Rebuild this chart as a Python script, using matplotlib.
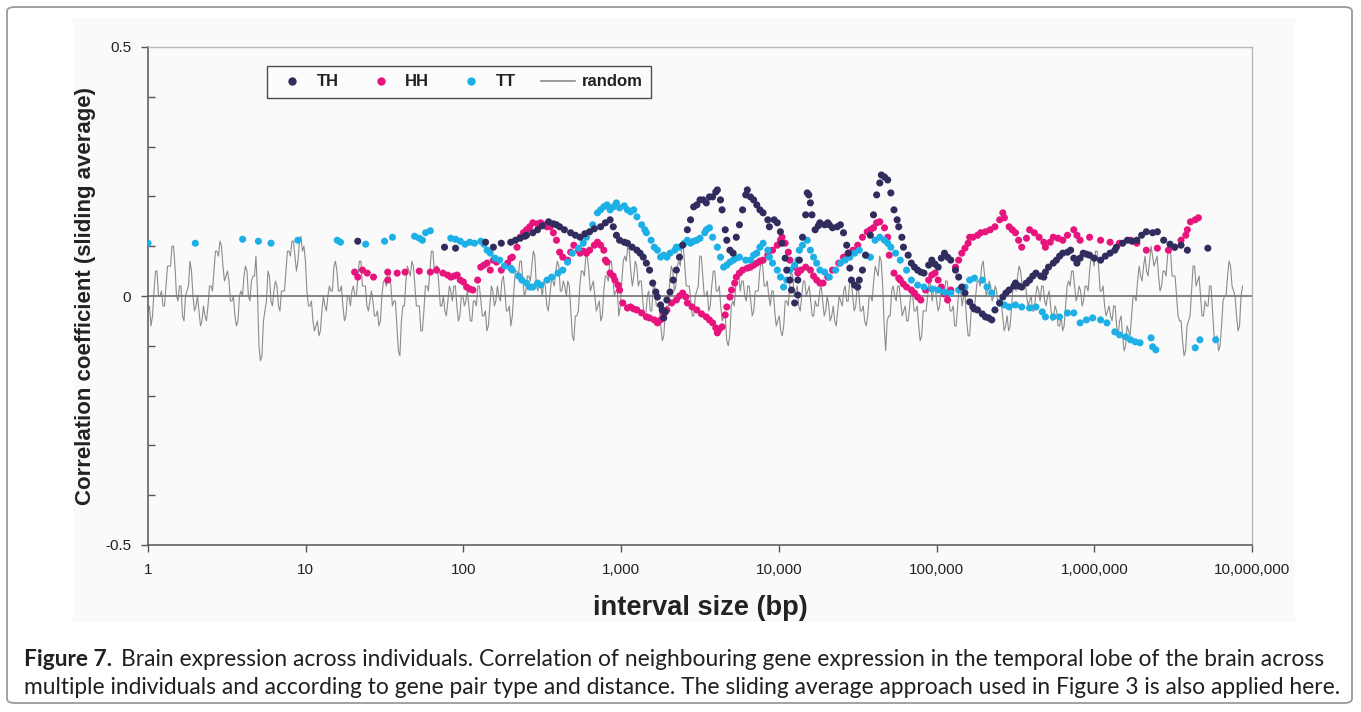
import numpy as np
import matplotlib
matplotlib.use("Agg")
import matplotlib.pyplot as plt
from matplotlib.lines import Line2D
from matplotlib.patches import FancyBboxPatch, Rectangle

plt.rcParams['font.family'] = ['Liberation Sans', 'DejaVu Sans']

# (log10 interval size, correlation)
th_points = [
    (1.33, 0.110), (1.88, 0.098), (1.95, 0.096), (2.14, 0.108), (2.19, 0.098), (2.24, 0.106),
    (2.30, 0.108), (2.33, 0.112), (2.36, 0.116), (2.39, 0.120), (2.40, 0.122), (2.44, 0.127),
    (2.47, 0.133), (2.50, 0.141), (2.54, 0.149), (2.57, 0.145), (2.59, 0.143), (2.61, 0.139),
    (2.64, 0.133), (2.68, 0.127), (2.71, 0.122), (2.74, 0.118), (2.77, 0.125), (2.80, 0.129),
    (2.83, 0.135), (2.87, 0.139), (2.90, 0.147), (2.93, 0.153), (2.95, 0.139), (2.97, 0.122),
    (2.99, 0.112), (3.02, 0.108), (3.04, 0.106), (3.07, 0.098), (3.10, 0.092), (3.12, 0.086),
    (3.14, 0.078), (3.16, 0.066), (3.18, 0.052), (3.20, 0.026), (3.22, 0.008), (3.23, -0.002),
    (3.25, -0.018), (3.26, -0.028), (3.27, -0.044), (3.28, -0.032), (3.29, -0.008), (3.31, 0.008),
    (3.33, 0.032), (3.35, 0.052), (3.37, 0.078), (3.39, 0.102), (3.42, 0.133), (3.44, 0.153),
    (3.46, 0.179), (3.48, 0.183), (3.50, 0.193), (3.52, 0.193), (3.54, 0.187), (3.56, 0.199),
    (3.58, 0.199), (3.60, 0.209), (3.61, 0.213), (3.63, 0.193), (3.64, 0.173), (3.66, 0.133),
    (3.67, 0.112), (3.69, 0.092), (3.71, 0.086), (3.73, 0.118), (3.75, 0.143), (3.77, 0.173),
    (3.79, 0.203), (3.80, 0.213), (3.82, 0.199), (3.84, 0.193), (3.86, 0.183), (3.88, 0.173),
    (3.90, 0.167), (3.93, 0.153), (3.94, 0.139), (3.97, 0.153), (3.99, 0.147), (4.01, 0.129),
    (4.02, 0.106), (4.04, 0.076), (4.05, 0.052), (4.07, 0.032), (4.08, 0.012), (4.10, -0.014),
    (4.12, 0.002), (4.12, 0.032), (4.13, 0.072), (4.15, 0.118), (4.17, 0.163), (4.18, 0.207),
    (4.19, 0.203), (4.20, 0.187), (4.21, 0.163), (4.23, 0.133), (4.25, 0.141), (4.26, 0.147),
    (4.29, 0.143), (4.31, 0.147), (4.32, 0.143), (4.34, 0.137), (4.37, 0.139), (4.39, 0.143),
    (4.41, 0.127), (4.43, 0.102), (4.44, 0.086), (4.45, 0.056), (4.46, 0.032), (4.48, 0.022),
    (4.50, 0.018), (4.51, 0.032), (4.53, 0.052), (4.55, 0.082), (4.58, 0.122), (4.60, 0.163),
    (4.62, 0.203), (4.64, 0.227), (4.65, 0.243), (4.67, 0.239), (4.69, 0.233), (4.71, 0.207),
    (4.73, 0.173), (4.75, 0.153), (4.76, 0.139), (4.78, 0.118), (4.79, 0.098), (4.82, 0.082),
    (4.84, 0.066), (4.86, 0.058), (4.88, 0.052), (4.90, 0.048), (4.92, 0.046), (4.95, 0.062),
    (4.97, 0.072), (4.99, 0.064), (5.01, 0.058), (5.03, 0.076), (5.05, 0.086), (5.07, 0.078),
    (5.09, 0.072), (5.12, 0.052), (5.14, 0.038), (5.16, 0.018), (5.18, 0.006), (5.21, -0.012),
    (5.23, -0.022), (5.24, -0.026), (5.26, -0.028), (5.29, -0.036), (5.31, -0.042), (5.33, -0.044),
    (5.35, -0.048), (5.37, -0.028), (5.40, -0.014), (5.42, -0.002), (5.44, 0.006), (5.46, 0.012),
    (5.49, 0.020), (5.50, 0.026), (5.52, 0.020), (5.54, 0.018), (5.57, 0.026), (5.59, 0.032),
    (5.61, 0.040), (5.63, 0.046), (5.66, 0.040), (5.68, 0.038), (5.69, 0.048), (5.71, 0.058),
    (5.74, 0.066), (5.76, 0.072), (5.78, 0.080), (5.80, 0.086), (5.83, 0.088), (5.85, 0.092),
    (5.87, 0.076), (5.89, 0.066), (5.91, 0.076), (5.93, 0.086), (5.95, 0.084), (5.97, 0.082),
    (6.00, 0.076), (6.04, 0.072), (6.07, 0.080), (6.10, 0.086), (6.13, 0.092), (6.14, 0.098),
    (6.18, 0.106), (6.21, 0.112), (6.24, 0.110), (6.27, 0.112), (6.30, 0.122), (6.33, 0.129),
    (6.37, 0.127), (6.40, 0.129), (6.44, 0.112), (6.48, 0.104), (6.51, 0.098), (6.55, 0.102),
    (6.59, 0.092), (6.72, 0.096),
]

hh_points = [
    (1.31, 0.048), (1.33, 0.038), (1.36, 0.052), (1.39, 0.046), (1.43, 0.038), (1.52, 0.032),
    (1.52, 0.048), (1.58, 0.046), (1.63, 0.048), (1.72, 0.050), (1.79, 0.048), (1.83, 0.052),
    (1.87, 0.046), (1.90, 0.042), (1.92, 0.038), (1.94, 0.040), (1.96, 0.042), (1.98, 0.032),
    (2.00, 0.028), (2.02, 0.018), (2.04, 0.014), (2.06, 0.012), (2.09, 0.032), (2.11, 0.058),
    (2.13, 0.062), (2.15, 0.066), (2.17, 0.052), (2.19, 0.072), (2.21, 0.068), (2.24, 0.052),
    (2.28, 0.066), (2.30, 0.076), (2.31, 0.078), (2.34, 0.098), (2.36, 0.118), (2.38, 0.127),
    (2.40, 0.133), (2.42, 0.139), (2.44, 0.147), (2.47, 0.145), (2.49, 0.147), (2.51, 0.143),
    (2.53, 0.139), (2.55, 0.139), (2.57, 0.127), (2.59, 0.112), (2.61, 0.088), (2.63, 0.078),
    (2.66, 0.072), (2.68, 0.088), (2.70, 0.102), (2.73, 0.092), (2.74, 0.086), (2.76, 0.090),
    (2.78, 0.086), (2.80, 0.092), (2.83, 0.102), (2.85, 0.108), (2.87, 0.102), (2.89, 0.092),
    (2.90, 0.072), (2.91, 0.068), (2.93, 0.046), (2.95, 0.040), (2.96, 0.032), (2.98, 0.022),
    (2.99, 0.012), (3.01, -0.014), (3.04, -0.024), (3.06, -0.022), (3.08, -0.026), (3.10, -0.028),
    (3.13, -0.034), (3.16, -0.042), (3.18, -0.044), (3.21, -0.048), (3.23, -0.054), (3.25, -0.048),
    (3.27, -0.036), (3.29, -0.028), (3.32, -0.014), (3.35, -0.008), (3.37, 0.000), (3.39, 0.006),
    (3.41, -0.002), (3.42, -0.014), (3.45, -0.022), (3.48, -0.028), (3.51, -0.036), (3.54, -0.042),
    (3.56, -0.048), (3.58, -0.054), (3.60, -0.064), (3.61, -0.074), (3.62, -0.068), (3.64, -0.062),
    (3.66, -0.038), (3.67, -0.022), (3.69, -0.002), (3.70, 0.012), (3.72, 0.026), (3.73, 0.038),
    (3.75, 0.046), (3.77, 0.052), (3.80, 0.056), (3.82, 0.058), (3.84, 0.062), (3.86, 0.066),
    (3.88, 0.070), (3.90, 0.072), (3.93, 0.082), (3.96, 0.092), (3.99, 0.102), (4.01, 0.112),
    (4.02, 0.118), (4.04, 0.106), (4.06, 0.088), (4.07, 0.072), (4.10, 0.058), (4.12, 0.046),
    (4.14, 0.052), (4.17, 0.058), (4.20, 0.052), (4.22, 0.040), (4.24, 0.032), (4.26, 0.026),
    (4.28, 0.026), (4.31, 0.038), (4.34, 0.052), (4.38, 0.066), (4.41, 0.078), (4.44, 0.086),
    (4.47, 0.092), (4.50, 0.102), (4.53, 0.118), (4.56, 0.129), (4.58, 0.133), (4.60, 0.137),
    (4.62, 0.147), (4.64, 0.149), (4.67, 0.137), (4.69, 0.118), (4.70, 0.082), (4.73, 0.046),
    (4.76, 0.036), (4.77, 0.032), (4.79, 0.024), (4.81, 0.018), (4.84, 0.012), (4.86, 0.006),
    (4.88, -0.002), (4.90, -0.008), (4.93, 0.012), (4.95, 0.032), (4.97, 0.042), (4.99, 0.046),
    (5.01, 0.032), (5.03, 0.018), (5.05, 0.004), (5.07, -0.008), (5.09, 0.012), (5.12, 0.058),
    (5.14, 0.072), (5.16, 0.086), (5.18, 0.096), (5.20, 0.106), (5.21, 0.118), (5.23, 0.118),
    (5.26, 0.122), (5.28, 0.127), (5.31, 0.129), (5.34, 0.133), (5.37, 0.139), (5.40, 0.153),
    (5.42, 0.167), (5.43, 0.157), (5.46, 0.139), (5.48, 0.133), (5.50, 0.127), (5.52, 0.112),
    (5.54, 0.098), (5.57, 0.116), (5.59, 0.133), (5.62, 0.127), (5.65, 0.118), (5.68, 0.108),
    (5.69, 0.098), (5.72, 0.108), (5.74, 0.118), (5.77, 0.116), (5.80, 0.112), (5.83, 0.122),
    (5.87, 0.133), (5.89, 0.122), (5.91, 0.112), (5.97, 0.118), (6.04, 0.112), (6.10, 0.108),
    (6.16, 0.106), (6.23, 0.112), (6.27, 0.106), (6.33, 0.092), (6.40, 0.096), (6.47, 0.092),
    (6.51, 0.098), (6.55, 0.112), (6.58, 0.122), (6.59, 0.133), (6.61, 0.149), (6.64, 0.153),
    (6.66, 0.157),
]

tt_points = [
    (0.00, 0.106), (0.30, 0.106), (0.60, 0.114), (0.70, 0.110), (0.78, 0.106), (0.95, 0.112),
    (1.20, 0.112), (1.22, 0.108), (1.38, 0.104), (1.50, 0.110), (1.55, 0.118), (1.69, 0.120),
    (1.72, 0.116), (1.74, 0.112), (1.76, 0.127), (1.79, 0.131), (1.92, 0.116), (1.95, 0.114),
    (1.98, 0.110), (2.01, 0.104), (2.04, 0.108), (2.07, 0.106), (2.11, 0.110), (2.13, 0.104),
    (2.15, 0.092), (2.17, 0.086), (2.20, 0.076), (2.23, 0.072), (2.26, 0.060), (2.30, 0.056),
    (2.31, 0.052), (2.35, 0.040), (2.37, 0.032), (2.40, 0.026), (2.42, 0.018), (2.44, 0.018),
    (2.47, 0.026), (2.49, 0.022), (2.53, 0.032), (2.56, 0.038), (2.60, 0.046), (2.63, 0.052),
    (2.66, 0.068), (2.69, 0.086), (2.73, 0.096), (2.76, 0.106), (2.78, 0.118), (2.82, 0.143),
    (2.85, 0.167), (2.87, 0.173), (2.89, 0.179), (2.91, 0.183), (2.93, 0.173), (2.95, 0.179),
    (2.97, 0.187), (2.99, 0.177), (3.02, 0.181), (3.04, 0.173), (3.06, 0.169), (3.08, 0.173),
    (3.10, 0.159), (3.13, 0.143), (3.15, 0.133), (3.16, 0.127), (3.19, 0.112), (3.21, 0.098),
    (3.23, 0.092), (3.25, 0.078), (3.27, 0.082), (3.29, 0.078), (3.31, 0.086), (3.34, 0.092),
    (3.35, 0.098), (3.37, 0.098), (3.40, 0.106), (3.42, 0.112), (3.44, 0.106), (3.46, 0.110),
    (3.48, 0.112), (3.50, 0.116), (3.53, 0.127), (3.54, 0.133), (3.56, 0.137), (3.58, 0.118),
    (3.61, 0.098), (3.63, 0.078), (3.65, 0.058), (3.67, 0.062), (3.69, 0.068), (3.71, 0.072),
    (3.73, 0.076), (3.75, 0.078), (3.79, 0.072), (3.82, 0.072), (3.84, 0.082), (3.86, 0.086),
    (3.88, 0.098), (3.90, 0.106), (3.93, 0.092), (3.94, 0.078), (3.96, 0.066), (3.99, 0.052),
    (4.01, 0.038), (4.03, 0.018), (4.05, 0.032), (4.07, 0.052), (4.10, 0.062), (4.12, 0.072),
    (4.13, 0.092), (4.15, 0.102), (4.18, 0.112), (4.20, 0.092), (4.22, 0.078), (4.24, 0.066),
    (4.26, 0.052), (4.29, 0.048), (4.32, 0.038), (4.36, 0.052), (4.39, 0.066), (4.42, 0.072),
    (4.45, 0.078), (4.48, 0.086), (4.51, 0.092), (4.55, 0.082), (4.58, 0.078), (4.61, 0.112),
    (4.64, 0.118), (4.67, 0.112), (4.69, 0.106), (4.71, 0.098), (4.74, 0.086), (4.77, 0.072),
    (4.81, 0.052), (4.84, 0.032), (4.88, 0.022), (4.92, 0.018), (4.97, 0.014), (5.01, 0.012),
    (5.05, 0.008), (5.09, 0.006), (5.14, 0.012), (5.18, 0.018), (5.21, 0.032), (5.24, 0.036),
    (5.29, 0.032), (5.32, 0.018), (5.35, 0.006), (5.40, -0.014), (5.43, -0.018), (5.46, -0.022),
    (5.50, -0.018), (5.54, -0.022), (5.59, -0.024), (5.63, -0.022), (5.67, -0.032), (5.69, -0.042),
    (5.74, -0.042), (5.78, -0.042), (5.83, -0.034), (5.87, -0.034), (5.91, -0.054), (5.95, -0.048),
    (5.99, -0.044), (6.04, -0.048), (6.08, -0.054), (6.13, -0.072), (6.16, -0.078), (6.20, -0.082),
    (6.23, -0.088), (6.26, -0.092), (6.29, -0.094), (6.36, -0.084), (6.37, -0.102), (6.39, -0.108),
    (6.64, -0.104), (6.67, -0.088), (6.77, -0.088),
]

# random-pair control trace, in hundredths, sampled evenly along the log axis
random_y_pct = [
    -3, -2, -6, -4, 1, 5, 5, 0, 0, 1, -2, -2, 2, 6, 6, 6, 10, 10, 6, 0,
    -1, 2, 2, -4, -5, 0, 1, 2, 7, 5, 0, -3, -2, 0, -3, -6, -5, -2, -4, -5,
    -2, 2, 2, 1, 5, 9, 9, 8, 11, 10, 6, 3, 4, 5, 3, -1, -1, 0, -4, -6,
    -5, 0, 1, 0, 4, 6, 5, 0, -1, 3, 4, 4, 8, 1, -10, -13, -12, -5, -3, -1,
    5, 4, -1, -2, 1, 3, 2, -2, -3, 1, 1, 1, 5, 9, 9, 8, 11, 11, 8, 5,
    7, 11, 12, 9, 10, 7, 1, -2, -2, -1, -5, -7, -6, -5, -8, -7, -3, 0, -2, -3,
    0, 2, 1, 1, 6, 7, 5, 1, 1, 2, -2, -5, -4, 0, 0, -2, 1, 2, 0, 0,
    4, 7, 7, 2, 2, 2, -2, -3, -1, 1, -1, -4, -4, -3, -6, -5, 0, 3, 3, 2,
    5, 5, 2, -2, -1, -1, -6, -11, -12, -5, -2, -2, 3, 6, 5, 4, 7, 6, 2, -2,
    -2, -2, -7, -7, -3, 2, 2, 1, 5, 9, 9, 5, 6, 6, 2, -2, -2, 0, -3, -4,
    -1, 2, 1, -1, 2, 2, -2, -5, -4, 0, 0, -2, -1, 1, -2, -5, -5, -1, -1, -2,
    2, 2, -1, -4, -4, -3, -7, -6, -2, 2, 1, -2, -1, 2, 0, -1,
    3, 4, 1, -3, -3, -2, -6, -4, 1, 5, 5, 4, 7, 7, 3, 0, 1, 4, 4, 3,
    6, 9, 8, 2, 1, 3, 2, 0, 3, 2, -2, -3, 0, 3, 3, 2, 5, 7, 6, 1,
    1, 3, 2, 0, 3, 2, -3, -8, -9, -4, -4, -3, 2, 5, 5, 4, 8, 8, 5, 1,
    2, 3, 0, -3, -2, -1, -5, -4, 1, 4, 4, 3, 7, 7, 4, 0, 1, 1, -4, -2,
    3, 7, 8, 7, 10, 9, 5, 2, 4, 7, 6, 2, 3, 3, -1, -4, -4, 0, 1, -3,
    -3, 2, 2, -2, -2, -2, -6, -9, -8, -3, -2, -2, 3, 6, 5, 1, 2, 6, 7, 6,
    10, 10, 6, 2, 2, 2, -1, -4, -4, 0, 1, 2, 8, 8, 4, 0, 0, 1, -3, -2,
    2, 5, 5, 1, 1, 2, -2, -5, -4, -4, -9, -10, -8, -2, -1, -2, 2, 5, 4, 1,
    3, 3, 0, -1, 2, 2, -1, -4, -3, 1, 1, 1, 5, 7, 6, 2, 2, 3, 0, -2,
    1, 1, -3, -6, -5, -4, -7, -8, -6, -1, -1, -2, 2, 5, 4, 0, 1, 2, -2, -3,
    0, 3, 3, 0, 1, 2, -1, -4, -4, -1, -2, -2, 1, 2, -1, -4, -3, 0, -2, -5,
    -4, -2, -5, -6, -3, 0, -1, -2, 1, 2, -1, -1, 3, 3, 0, -3, -2, 2, 1, -3,
    -3, -2, -5, -6, -4, 0, 0, -1, 3, 6, 5, 4, 8, 7, 2, -6, -11, -5, -4, -4,
    1, 2, 0, -1, 2, 2, -1, -4, -3, -2, -5, -5, -2, 1, 0, -3, -3, -2, -6, -9,
    -8, -3, -3, -3, 0, 3, 2, -1, 1, 2, -1, -3, -2, 2, 1, 0, 3, 3, 0, -3,
    -3, -2, -6, -6, -2, 2, 1, -2, 0, 0, -5, -8, -8, -3, -3, -3, 0, 3, 3, 2,
    6, 7, 4, 0, 1, 3, 2, -1, 0, 2, 1, -2, -2, -1, -4, -7, -6, -4, -7, -6,
    -2, 2, 2, 1, 4, 6, 5, 2, 3, 3, 0, -2, -1, 0, -3, -3, 0, 2, 1, -1,
    2, 2, -1, -2, 0, 1, -2, -5, -4, -2, -3, -6, -6, -4, -7, -6, -2, 2, 3, 2,
    5, 5, 2, -1, 0, 2, 1, -2, -1, 2, 2, 1, 5, 8, 8, 6, 9, 9, 6, 1,
    1, 2, -2, -4, -3, -2, -4, -5, -2, -2, -6, -8, -5, -4, -8, -11, -10, -6, -7, -8,
    -4, 0, 0, -1, 3, 6, 4, 3, 6, 8, 5, 4, 7, 10, 8, 6, 7, 8, 4, 1,
    2, 5, 5, 4, 8, 10, 9, 4, 4, 4, 0, -4, -5, -5, -9, -12, -11, -6, -5, -4,
    1, 6, 6, 2, 3, 4, 0, -4, -4, -1, -2, -2, 2, 2, -3, -8, -9, -8, -11, -10,
    -6, -1, 0, 0, 4, 7, 6, 2, 1, 0, -4, -7, -6, 0, 2,
]

x_ticks = [1, 10, 100, 1000, 10000, 100000, 1000000, 10000000]
x_tick_labels = ['1', '10', '100', '1,000', '10,000', '100,000', '1,000,000', '10,000,000']
y_major = [-0.5, 0, 0.5]
y_minor = [-0.4, -0.3, -0.2, -0.1, 0.1, 0.2, 0.3, 0.4]

series_colors = {'TH': '#302c5e', 'HH': '#e8147e', 'TT': '#1cb0e6', 'random': '#8c8c8c'}

W, H = 1361, 712
fig = plt.figure(figsize=(W / 100, H / 100), dpi=100)
fig.patch.set_facecolor('white')

# outer frame and chart-area backdrop
fig.patches.append(FancyBboxPatch((7 / W, 9 / H), 1345 / W, 696 / H,
                                  boxstyle='round,pad=0,rounding_size=0.006',
                                  transform=fig.transFigure, fill=False,
                                  edgecolor='#9a9a9a', lw=1.3, zorder=-2))
fig.patches.append(Rectangle((73 / W, 1 - 622 / H), 1222 / W, 604 / H,
                             transform=fig.transFigure, facecolor='#fafafa',
                             edgecolor='none', zorder=-1))

ax = fig.add_axes([148 / W, 1 - 545 / H, 1104 / W, 498 / H])
ax.set_facecolor('none')

def unzip(points):
    lx = np.array([p[0] for p in points])
    yy = np.array([p[1] for p in points])
    return 10 ** lx, yy

rand_x = 10 ** np.linspace(0, 6.94, len(random_y_pct))
rand_y = np.array(random_y_pct) / 100.0
ax.plot(rand_x, rand_y, color=series_colors['random'], lw=0.8, zorder=2)
ax.axhline(0, color='#7a7a7a', lw=1.3, zorder=2.5)

for name, pts in [('HH', hh_points), ('TT', tt_points), ('TH', th_points)]:
    xx, yy = unzip(pts)
    ax.scatter(xx, yy, s=26, color=series_colors[name], edgecolors='none', zorder=3)

ax.set_xscale('log')
ax.set_xlim(1, 1e7)
ax.set_ylim(-0.5, 0.5)
ax.xaxis.set_major_locator(matplotlib.ticker.FixedLocator(x_ticks))
ax.xaxis.set_minor_locator(matplotlib.ticker.NullLocator())
ax.set_xticklabels(x_tick_labels)
ax.set_yticks(y_major)
ax.set_yticklabels(['-0.5', '0', '0.5'])
ax.set_yticks(y_minor, minor=True)
ax.tick_params(axis='x', which='major', direction='out', length=5, width=1,
               color='#555555', labelsize=11, pad=8, labelcolor='#222222')
ax.tick_params(axis='y', which='major', direction='out', length=5, width=1,
               color='#555555', labelsize=11, pad=7, labelcolor='#222222')
ax.tick_params(axis='y', which='minor', direction='in', length=5, width=1, color='#555555')

for side in ['left', 'bottom']:
    ax.spines[side].set_color('#555555')
    ax.spines[side].set_linewidth(1.1)
for side in ['top', 'right']:
    ax.spines[side].set_color('#b8b8b8')
    ax.spines[side].set_linewidth(1.0)

ax.set_xlabel('interval size (bp)', fontsize=19.6, fontweight='bold', color='#222222')
ax.xaxis.set_label_coords(0.5, -0.1265)
ax.xaxis.label.set_va('center')
ax.set_ylabel('Correlation coefficient (sliding average)', fontsize=16,
              fontweight='bold', color='#222222')
ax.yaxis.set_label_coords(-0.057, 0.5)
ax.yaxis.label.set_va('center')

handles = [
    Line2D([], [], ls='none', marker='o', markersize=5, color=series_colors['TH']),
    Line2D([], [], ls='none', marker='o', markersize=5, color=series_colors['HH']),
    Line2D([], [], ls='none', marker='o', markersize=5, color=series_colors['TT']),
    Line2D([], [], color=series_colors['random'], lw=1.2),
]
leg = ax.legend(handles, ['TH', 'HH', 'TT', 'random'], ncol=4, loc='center',
                bbox_to_anchor=(0.108, 0.894, 0.348, 0.072), mode='expand',
                prop={'weight': 'bold', 'size': 12}, frameon=True, fancybox=False,
                handlelength=2.0, handletextpad=0.45, borderpad=0.5,
                borderaxespad=0, columnspacing=1.0)
leg.get_frame().set_edgecolor('#222222')
leg.get_frame().set_linewidth(1.0)
leg.get_frame().set_facecolor('#fdfdfd')
for t in leg.get_texts():
    t.set_color('#222222')

# caption
cap_font = ['Lato', 'DejaVu Sans']
cap_size = 16.4
t1 = fig.text(24 / W, 1 - 660 / H, 'Figure 7.', fontsize=cap_size, fontweight='bold',
              family=cap_font, va='center', color='#231f20')
fig.canvas.draw()
bb = t1.get_window_extent(fig.canvas.get_renderer())
fig.text((bb.x1 + 9) / W, 1 - 660 / H,
         'Brain expression across individuals. Correlation of neighbouring gene expression '
         'in the temporal lobe of the brain across',
         fontsize=cap_size, family=cap_font, va='center', color='#231f20')
fig.text(24 / W, 1 - 688 / H,
         'multiple individuals and according to gene pair type and distance. The sliding '
         'average approach used in Figure 3 is also applied here.',
         fontsize=cap_size, family=cap_font, va='center', color='#231f20')

fig.savefig('out.png', dpi=100)
